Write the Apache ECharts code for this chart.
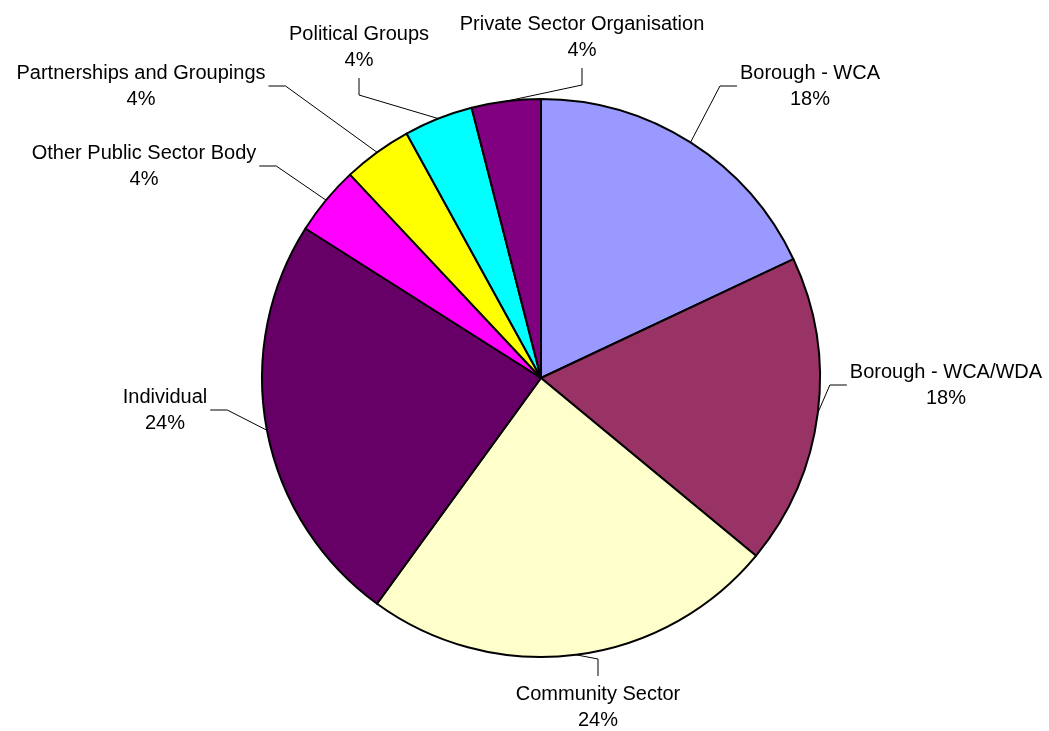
<!DOCTYPE html>
<html>
<head>
<meta charset="utf-8">
<title>Respondents by type</title>
<script src="https://cdn.jsdelivr.net/npm/echarts@6/dist/echarts.min.js"></script>
<style>
  html, body { margin: 0; padding: 0; background: #ffffff; }
  #chart { width: 1049px; height: 731px; }
</style>
</head>
<body>
<div id="chart"></div>
<script>
// Respondent categories, clockwise from 12 o'clock
const categories = [
  'Borough - WCA',
  'Borough - WCA/WDA',
  'Community Sector',
  'Individual',
  'Other Public Sector Body',
  'Partnerships and Groupings',
  'Political Groups',
  'Private Sector Organisation'
];

// Share of respondents (%)
const shares = [18, 18, 24, 24, 4, 4, 4, 4];

// Slice fills, in category order
const sliceColors = [
  '#9999FF', '#993366', '#FFFFCC', '#660066',
  '#FF00FF', '#FFFF00', '#00FFFF', '#800080'
];

// Where each label block sits and which side its leader line attaches to
const labelSpots = [
  { x: 810, y: 86,  side: 'left' },
  { x: 946, y: 385, side: 'left' },
  { x: 598, y: 707, side: 'top' },
  { x: 165, y: 410, side: 'right' },
  { x: 144, y: 166, side: 'right' },
  { x: 141, y: 86,  side: 'right' },
  { x: 359, y: 47,  side: 'bottom' },
  { x: 582, y: 37,  side: 'bottom' }
];

const chart = echarts.init(document.getElementById('chart'), null, { renderer: 'canvas' });

const LINE_H = 26;
const SEG = 17;
const GAP = 3;

chart.setOption({
  animation: false,
  backgroundColor: '#ffffff',
  series: [{
    type: 'pie',
    center: [541, 378],
    radius: [0, 279],
    startAngle: 90,
    clockwise: true,
    avoidLabelOverlap: false,
    data: categories.map((name, i) => ({
      name: name,
      value: shares[i],
      itemStyle: { color: sliceColors[i] }
    })),
    itemStyle: { borderColor: '#000000', borderWidth: 2 },
    emphasis: { disabled: true },
    label: {
      show: true,
      position: 'outside',
      formatter: '{b}\n{d}%',
      fontFamily: '"Liberation Sans", Arial, Helvetica, sans-serif',
      fontSize: 20,
      lineHeight: LINE_H,
      color: '#000000',
      align: 'center'
    },
    labelLine: {
      show: true,
      length: 10,
      length2: 10,
      lineStyle: { color: '#000000', width: 1 }
    },
    labelLayout: function (params) {
      const s = labelSpots[params.dataIndex];
      const w = params.labelRect.width;
      const h = params.labelRect.height;
      const start = params.labelLinePoints ? params.labelLinePoints[0] : [s.x, s.y];
      let end, elbow;
      if (s.side === 'left') {
        end = [s.x - w / 2 - GAP, s.y];
        elbow = [end[0] - SEG, s.y];
      } else if (s.side === 'right') {
        end = [s.x + w / 2 + GAP, s.y];
        elbow = [end[0] + SEG, s.y];
      } else if (s.side === 'bottom') {
        end = [s.x, s.y + h / 2 + 5];
        elbow = [s.x, end[1] + SEG];
      } else {
        end = [s.x, s.y - h / 2 - 5];
        elbow = [s.x, end[1] - SEG];
      }
      return {
        x: s.x,
        y: s.y,
        align: 'center',
        verticalAlign: 'middle',
        labelLinePoints: [start, elbow, end]
      };
    }
  }]
});
</script>
</body>
</html>
